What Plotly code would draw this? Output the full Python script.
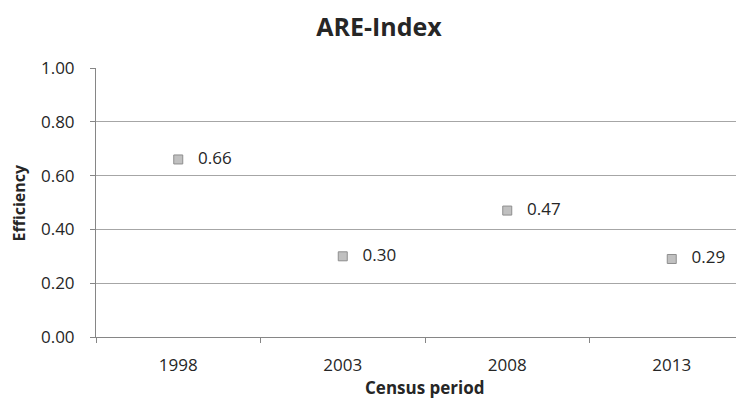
import plotly.graph_objects as go

periods = ["1998", "2003", "2008", "2013"]
efficiency = [0.66, 0.30, 0.47, 0.29]
labels = ["0.66", "0.30", "0.47", "0.29"]
y_ticks = [0.0, 0.2, 0.4, 0.6, 0.8, 1.0]
y_tick_text = ["0.00", "0.20", "0.40", "0.60", "0.80", "1.00"]

FONT = "Open Sans"
TXT = "#262626"
OFF = 8  # default page body margin
W, H = 744 - OFF, 406 - OFF
L, R, T = 96 - OFF, 0, 68 - OFF
B = H - (337 - OFF)

fig = go.Figure()
fig.add_trace(go.Scatter(
    x=periods, y=efficiency, mode="markers+text",
    text=["   " + t for t in labels], textposition="middle right",
    textfont=dict(family=FONT, size=17, color=TXT),
    marker=dict(symbol="square", size=9, color="#c0c0c0",
                line=dict(color="#8e8e8e", width=1)),
    cliponaxis=False, showlegend=False,
))

fig.update_layout(
    width=W, height=H,
    margin=dict(l=L, r=R, t=T, b=B, autoexpand=False),
    paper_bgcolor="white", plot_bgcolor="white",
    font=dict(family=FONT, color=TXT),
    title=dict(text="<b>ARE-Index</b>", x=(379 - OFF) / W, xanchor="center",
               y=1 - (27 - OFF) / H, yanchor="middle", yref="container",
               font=dict(family=FONT, size=25, color=TXT)),
    xaxis=dict(type="category", range=[-0.5, 3.5 - 10 / 164.5],
               tickson="boundaries", ticks="outside", ticklen=5,
               tickcolor="#868686", showline=True, linecolor="#868686",
               linewidth=1, showgrid=False, zeroline=False,
               automargin=False,
               tickfont=dict(family=FONT, size=17, color=TXT),
               ticklabelstandoff=13),
    yaxis=dict(range=[0, 1], tickvals=y_ticks, ticktext=y_tick_text,
               ticks="outside", ticklen=5, tickcolor="#868686",
               showline=True, linecolor="#868686", linewidth=1,
               showgrid=True, gridcolor="#a6a6a6", gridwidth=1,
               zeroline=False, automargin=False,
               tickfont=dict(family=FONT, size=17, color=TXT),
               ticklabelstandoff=12),
    annotations=[
        dict(text="<b>Census period</b>", xref="x", x=1.5, yref="paper",
             y=-(387 - 337) / (H - T - B), yanchor="middle",
             xanchor="center", showarrow=False,
             font=dict(family=FONT, size=17, color=TXT)),
        dict(text="<b>Efficiency</b>", xref="paper", x=-(96 - 18) / (W - L - R),
             xanchor="center", yref="paper", y=0.5, yanchor="middle",
             textangle=-90, showarrow=False,
             font=dict(family=FONT, size=16, color=TXT)),
    ],
)

fig.write_html("out.html")
